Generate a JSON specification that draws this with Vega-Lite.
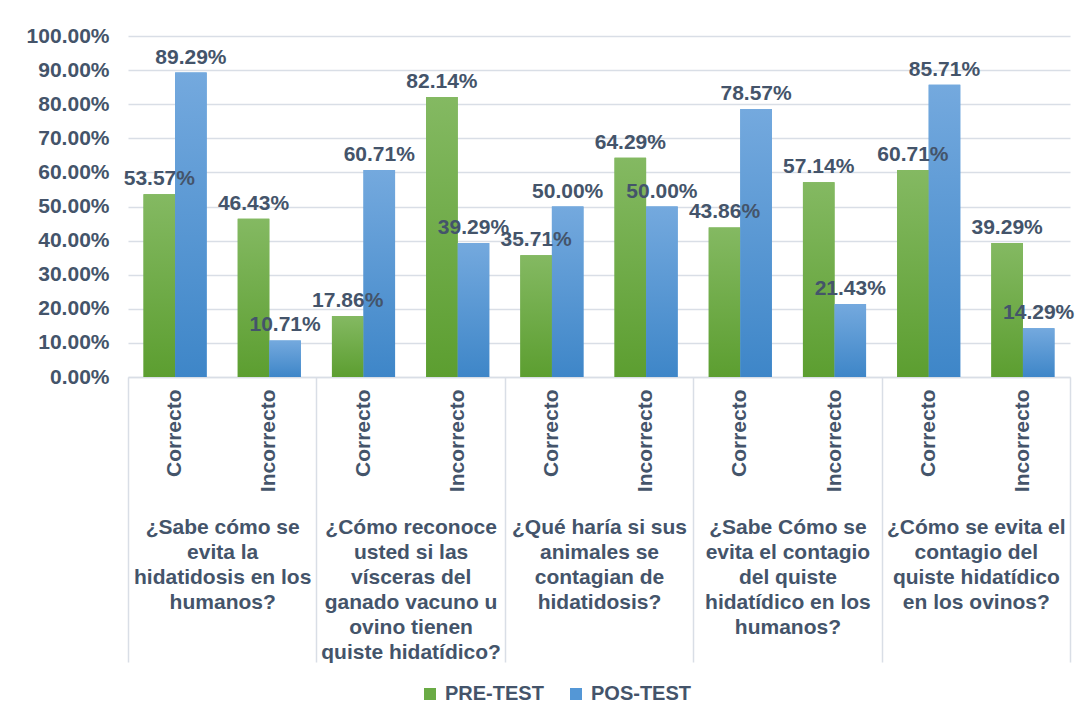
{
  "$schema": "https://vega.github.io/schema/vega-lite/v6.json",
  "width": 942,
  "height": 341,
  "autosize": "none",
  "padding": {"left": 128, "top": 36, "right": 21, "bottom": 351},
  "background": "white",
  "config": {
    "font": "Liberation Sans",
    "view": {"stroke": null},
    "axis": {"labelFont": "Liberation Sans", "labelFontSize": 21, "labelFontWeight": "bold", "labelColor": "#44546a", "labelLimit": 0, "labelOverlap": false}
  },
  "layer": [
    {
      "data": {
        "values": [
          {"slot": "1 Correcto", "test": "PRE-TEST", "value": 0.5357},
          {"slot": "1 Correcto", "test": "POS-TEST", "value": 0.8929},
          {"slot": "1 Incorrecto", "test": "PRE-TEST", "value": 0.4643},
          {"slot": "1 Incorrecto", "test": "POS-TEST", "value": 0.1071},
          {"slot": "2 Correcto", "test": "PRE-TEST", "value": 0.1786},
          {"slot": "2 Correcto", "test": "POS-TEST", "value": 0.6071},
          {"slot": "2 Incorrecto", "test": "PRE-TEST", "value": 0.8214},
          {"slot": "2 Incorrecto", "test": "POS-TEST", "value": 0.3929},
          {"slot": "3 Correcto", "test": "PRE-TEST", "value": 0.3571},
          {"slot": "3 Correcto", "test": "POS-TEST", "value": 0.5},
          {"slot": "3 Incorrecto", "test": "PRE-TEST", "value": 0.6429},
          {"slot": "3 Incorrecto", "test": "POS-TEST", "value": 0.5},
          {"slot": "4 Correcto", "test": "PRE-TEST", "value": 0.4386},
          {"slot": "4 Correcto", "test": "POS-TEST", "value": 0.7857},
          {"slot": "4 Incorrecto", "test": "PRE-TEST", "value": 0.5714},
          {"slot": "4 Incorrecto", "test": "POS-TEST", "value": 0.2143},
          {"slot": "5 Correcto", "test": "PRE-TEST", "value": 0.6071},
          {"slot": "5 Correcto", "test": "POS-TEST", "value": 0.8571},
          {"slot": "5 Incorrecto", "test": "PRE-TEST", "value": 0.3929},
          {"slot": "5 Incorrecto", "test": "POS-TEST", "value": 0.1429}
        ]
      },
      "encoding": {
        "x": {
          "field": "slot", "type": "nominal", "sort": null,
          "scale": {"paddingInner": 0.33, "paddingOuter": 0.165},
          "axis": {"title": null, "orient": "bottom", "labelAngle": 270, "labelAlign": "right", "labelBaseline": "middle", "labelPadding": 12, "ticks": false, "domainColor": "#d9dee6", "domainWidth": 1.5, "labelExpr": "split(datum.label, ' ')[1]"}
        },
        "xOffset": {"field": "test", "type": "nominal", "sort": ["PRE-TEST", "POS-TEST"], "scale": {"domain": ["PRE-TEST", "POS-TEST"]}},
        "y": {
          "field": "value", "type": "quantitative",
          "scale": {"domain": [0, 1]},
          "axis": {"title": null, "format": ".2%", "values": [0, 0.1, 0.2, 0.3, 0.4, 0.5, 0.6, 0.7, 0.8, 0.9, 1], "labelOverlap": false, "labelFlush": false, "domain": false, "ticks": false, "labelPadding": 19, "gridColor": "#d9dee6", "gridWidth": 1.5}
        }
      },
      "layer": [
        {
          "mark": {"type": "bar"},
          "encoding": {
            "color": {
              "field": "test", "type": "nominal", "sort": ["PRE-TEST", "POS-TEST"],
              "scale": {"domain": ["PRE-TEST", "POS-TEST"], "range": ["#6aab45", "#5497d6"]},
              "legend": {"title": null, "orient": "none", "direction": "horizontal", "legendX": 292, "legendY": 648, "symbolType": "square", "symbolSize": 144, "symbolStrokeWidth": 0, "labelFont": "Liberation Sans", "labelFontSize": 20, "labelFontWeight": "bold", "labelColor": "#44546a", "labelOffset": 5, "columnPadding": 22}
            }
          }
        },
        {
          "transform": [{"filter": "datum.test === 'PRE-TEST'"}],
          "mark": {"type": "bar", "fill": {"gradient": "linear", "x1": 0, "y1": 0, "x2": 0, "y2": 1, "stops": [{"offset": 0, "color": "#84b962"}, {"offset": 1, "color": "#5c9e30"}]}}
        },
        {
          "transform": [{"filter": "datum.test === 'POS-TEST'"}],
          "mark": {"type": "bar", "fill": {"gradient": "linear", "x1": 0, "y1": 0, "x2": 0, "y2": 1, "stops": [{"offset": 0, "color": "#74a9de"}, {"offset": 1, "color": "#3e86c8"}]}}
        },
        {
          "mark": {"type": "text", "baseline": "bottom", "dy": -5, "font": "Liberation Sans", "fontSize": 21, "fontWeight": "bold", "color": "#44546a"},
          "encoding": {
            "text": {"field": "value", "type": "quantitative", "format": ".2%"}
          }
        }
      ]
    },
    {
      "data": {
        "values": [
          {"question": "¿Sabe cómo se\nevita la\nhidatidosis en los\nhumanos?"},
          {"question": "¿Cómo reconoce\nusted si las\nvísceras del\nganado vacuno u\novino tienen\nquiste hidatídico?"},
          {"question": "¿Qué haría si sus\nanimales se\ncontagian de\nhidatidosis?"},
          {"question": "¿Sabe Cómo se\nevita el contagio\ndel quiste\nhidatídico en los\nhumanos?"},
          {"question": "¿Cómo se evita el\ncontagio del\nquiste hidatídico\nen los ovinos?"}
        ]
      },
      "mark": {"type": "point", "opacity": 0},
      "encoding": {
        "x": {
          "field": "question", "type": "nominal", "sort": null,
          "scale": {"paddingInner": 0, "paddingOuter": 0},
          "axis": {"title": null, "orient": "bottom", "labelAngle": 0, "labelAlign": "center", "labelBaseline": "top", "labelPadding": -146, "labelLineHeight": 25, "labelExpr": "split(datum.label, '\\n')", "domain": false, "grid": false, "tickBand": "extent", "tickSize": 285, "tickColor": "#d9dee6", "tickWidth": 1.5}
        }
      }
    }
  ],
  "resolve": {"scale": {"x": "independent"}, "axis": {"x": "independent"}}
}
